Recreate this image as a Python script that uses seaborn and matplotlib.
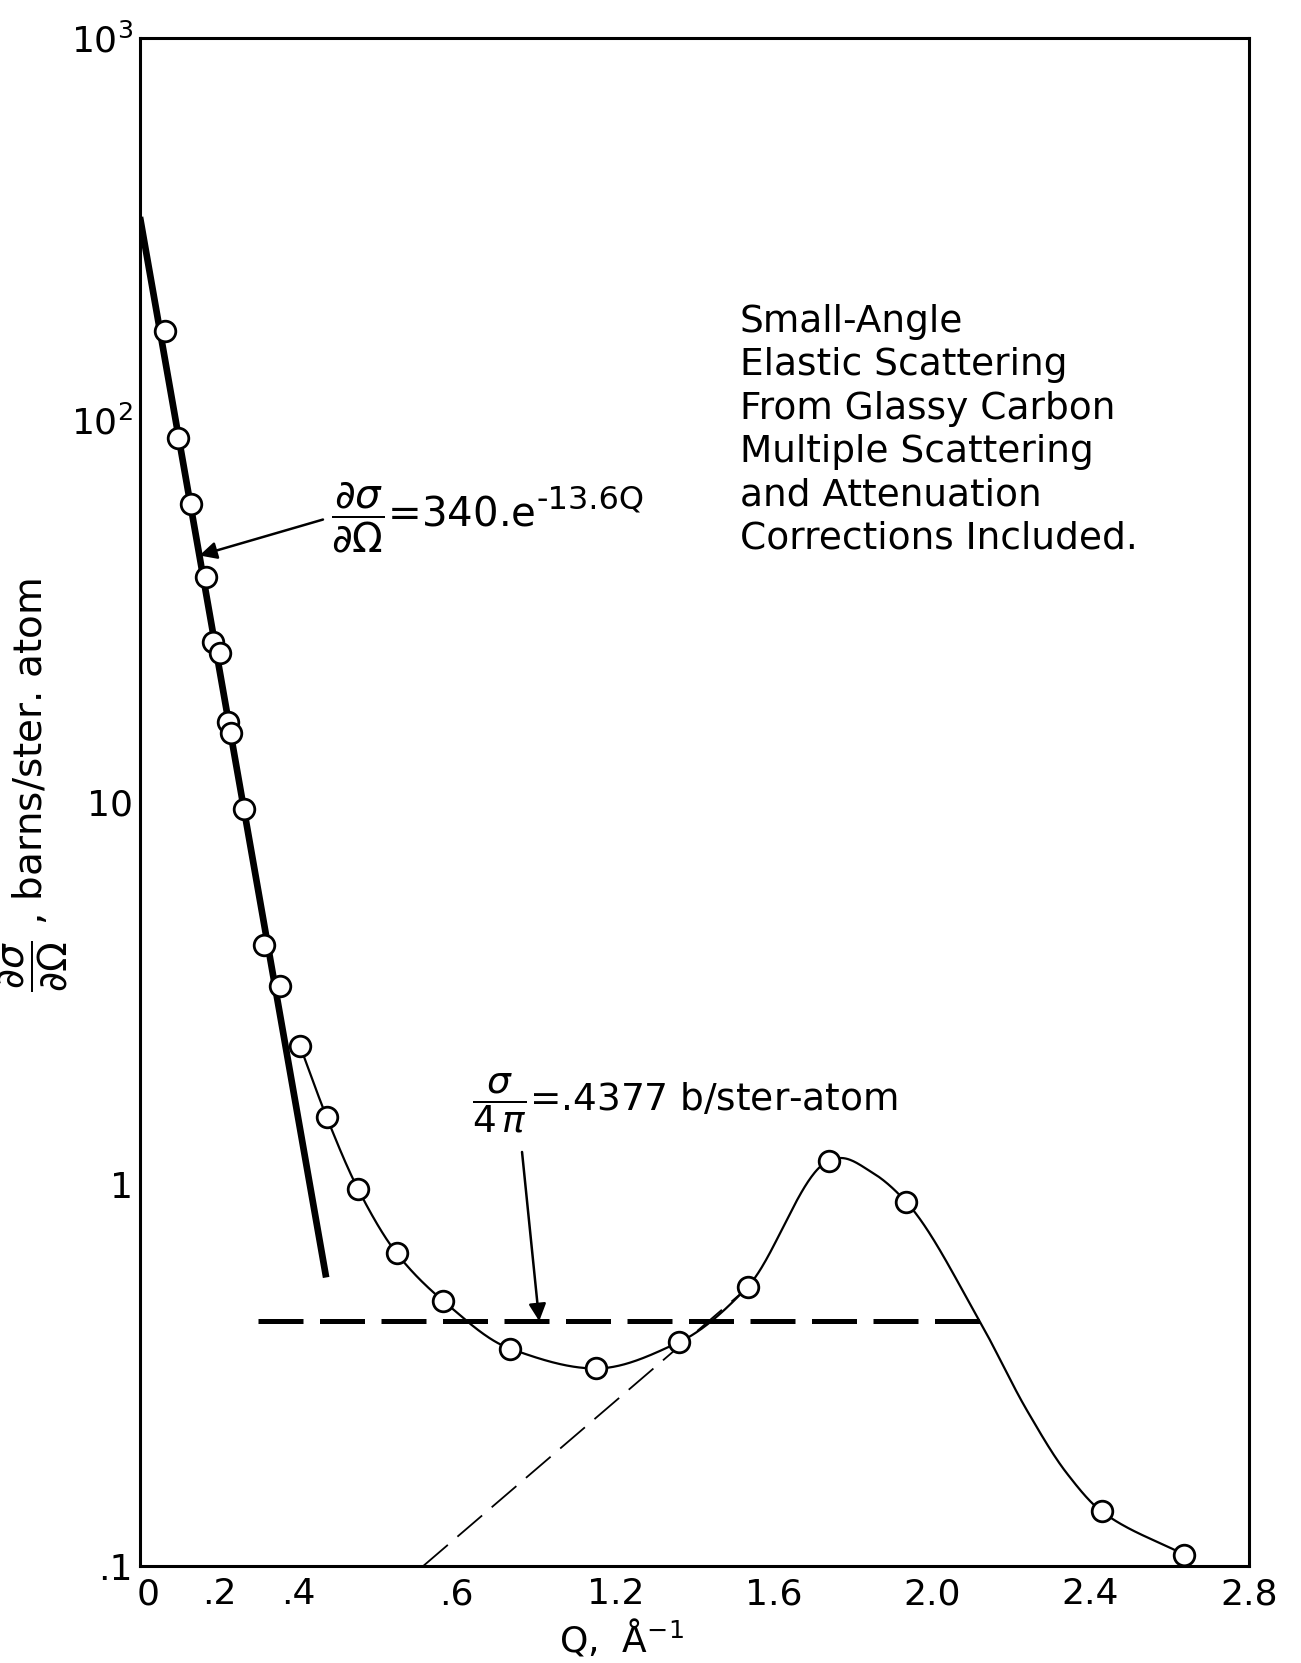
import numpy as np
import pandas as pd
import matplotlib
matplotlib.use("Agg")
import matplotlib.pyplot as plt
import matplotlib.transforms as mtransforms
import seaborn as sns

# ---------------- data ----------------
q_points = [0.062, 0.096, 0.128, 0.166, 0.185, 0.201, 0.222, 0.230, 0.262,
            0.313, 0.353, 0.404, 0.471, 0.551, 0.648, 0.766, 0.934, 1.151,
            1.362, 1.534, 1.740, 1.935, 2.428, 2.637]
ds_points = [171, 89.7, 60.3, 38.8, 26.3, 24.6, 16.2, 15.2, 9.57,
             4.22, 3.29, 2.30, 1.50, 0.968, 0.659, 0.494, 0.371, 0.329,
             0.386, 0.538, 1.15, 0.897, 0.139, 0.107]

# smooth hand-drawn curve: starts at the 12th point; extra points
curve_start_index = 11
curve_guide_q = [1.770, 1.850, 2.120, 2.240, 2.340]
curve_guide_y = [1.17, 1.07, 0.4377, 0.255, 0.175]

# exponential fit shown on chart
fit_amp = 340.0
fit_rate = 13.6
fit_q_range = [0.0, 0.47]
arrow_head_q = 0.15

# sigma / 4 pi level
sigma_level = 0.4377
sigma_q_range = [0.297, 2.12]
sigma_arrow_q = 1.008

thin_dash_q = [0.715, 1.52]
thin_dash_y = [0.1, 0.52]

x_ticks = [0, 0.2, 0.4, 0.8, 1.2, 1.6, 2.0, 2.4, 2.8]
x_tick_labels = ["0", ".2", ".4", ".6", "1.2", "1.6", "2.0", "2.4", "2.8"]
y_ticks = [0.1, 1, 10, 100, 1000]
y_tick_labels = [".1", "1", "10", r"$10^2$", r"$10^3$"]

block_text = ("Small-Angle\nElastic Scattering\nFrom Glassy Carbon\n"
              "Multiple Scattering\nand Attenuation\nCorrections Included.")


# ---------------- helpers ----------------
def pchip(x, y, xn):
    x = np.asarray(x, float); y = np.asarray(y, float)
    h = np.diff(x); delta = np.diff(y) / h
    n = len(x); d = np.zeros(n)
    for k in range(1, n - 1):
        if delta[k - 1] * delta[k] <= 0:
            d[k] = 0.0
        else:
            w1 = 2 * h[k] + h[k - 1]; w2 = h[k] + 2 * h[k - 1]
            d[k] = (w1 + w2) / (w1 / delta[k - 1] + w2 / delta[k])
    d[0] = delta[0]; d[-1] = delta[-1]
    idx = np.clip(np.searchsorted(x, xn) - 1, 0, n - 2)
    t = (xn - x[idx]) / h[idx]
    h00 = 2 * t**3 - 3 * t**2 + 1; h10 = t**3 - 2 * t**2 + t
    h01 = -2 * t**3 + 3 * t**2; h11 = t**3 - t**2
    return h00 * y[idx] + h10 * h[idx] * d[idx] + h01 * y[idx + 1] + h11 * h[idx] * d[idx + 1]


# ---------------- style ----------------
sns.set_theme(style="white")
plt.rcParams["font.family"] = ["DejaVu Sans"]
plt.rcParams["mathtext.fontset"] = "dejavusans"
plt.rcParams["xtick.direction"] = "in"
plt.rcParams["ytick.direction"] = "in"

fig = plt.figure(figsize=(13.01, 16.63), dpi=100)
ax = fig.add_axes([0.1076, 0.0583, 0.8524, 0.9188])
ax.set_facecolor("white")
for s in ax.spines.values():
    s.set_color("black")
    s.set_linewidth(2.2)

ax.set_yscale("log")
ax.set_xlim(0, 2.8)
ax.set_ylim(0.1, 1000)

# fit line
fq = np.linspace(fit_q_range[0], fit_q_range[1], 100)
fit_df = pd.DataFrame({"Q": fq, "y": fit_amp * np.exp(-fit_rate * fq)})
sns.lineplot(data=fit_df, x="Q", y="y", ax=ax, color="black", lw=4.8,
             sort=False, estimator=None, solid_capstyle="butt")

# smooth curve through the points
kq = list(q_points[curve_start_index:]) + curve_guide_q
ky = list(ds_points[curve_start_index:]) + curve_guide_y
order = np.argsort(kq)
kq = np.asarray(kq)[order]; ky = np.log10(np.asarray(ky)[order])
cq = np.linspace(kq[0], kq[-1], 800)
curve_df = pd.DataFrame({"Q": cq, "y": 10 ** pchip(kq, ky, cq)})
sns.lineplot(data=curve_df, x="Q", y="y", ax=ax, color="black", lw=1.6,
             sort=False, estimator=None)

# thick dashed sigma/4pi line
sig_df = pd.DataFrame({"Q": sigma_q_range, "y": [sigma_level] * 2})
sns.lineplot(data=sig_df, x="Q", y="y", ax=ax, color="black", lw=3.6,
             sort=False, estimator=None)
ax.lines[-1].set_dashes([9.0, 3.3])

# thin dashed line
td_df = pd.DataFrame({"Q": thin_dash_q, "y": thin_dash_y})
sns.lineplot(data=td_df, x="Q", y="y", ax=ax, color="black", lw=1.3,
             sort=False, estimator=None)
ax.lines[-1].set_dashes([18, 7])

# data points
pts_df = pd.DataFrame({"Q": q_points, "y": ds_points})
sns.scatterplot(data=pts_df, x="Q", y="y", ax=ax, marker="o", s=220,
                facecolor="white", edgecolor="black", linewidth=2.0, zorder=5)

# ticks
ax.set_xticks(x_ticks)
ax.set_xticklabels(x_tick_labels)
ax.set_yticks(y_ticks)
ax.set_yticklabels(y_tick_labels)
ax.yaxis.set_minor_locator(matplotlib.ticker.NullLocator())
ax.tick_params(axis="both", which="major", length=19, width=2.0, color="black",
               labelsize=26, labelcolor="black")
ax.tick_params(axis="x", pad=8)
ax.tick_params(axis="y", pad=5)
zero_lab = ax.get_xticklabels()[0]
zero_lab.set_transform(zero_lab.get_transform() +
                       mtransforms.ScaledTranslation(0.08, 0, fig.dpi_scale_trans))

ax.set_xlabel("")
ax.set_ylabel("")
fig.text(0.478, 0.007, r"Q,  Å$^{-1}$", fontsize=26, color="black",
         ha="center", va="baseline")
fig.text(0.026, 0.528, r"$\dfrac{\partial\sigma}{\partial\Omega}$ , barns/ster. atom",
         fontsize=28, color="black", ha="center", va="center", rotation=90)

# annotations
eq1 = ax.text(0.172, 0.6865, r"$\dfrac{\partial\sigma}{\partial\Omega}$=340.e",
              transform=ax.transAxes, fontsize=29, color="black",
              ha="left", va="center")
ax.annotate("-13.6Q", xy=(1.0, 0.5), xycoords=eq1, xytext=(1, 1),
            textcoords="offset points", fontsize=23, color="black",
            ha="left", va="bottom")
ax.annotate("", xy=(arrow_head_q, fit_amp * np.exp(-fit_rate * arrow_head_q)),
            xycoords="data", xytext=(0.165, 0.6849), textcoords="axes fraction",
            arrowprops=dict(arrowstyle="-|>", color="black", lw=1.8,
                            mutation_scale=26, shrinkA=0, shrinkB=0))

ax.text(0.299, 0.303, r"$\dfrac{\sigma}{4\,\pi}$=.4377 b/ster-atom",
        transform=ax.transAxes, fontsize=27, color="black", ha="left", va="center")
ax.annotate("", xy=(sigma_arrow_q, sigma_level), xycoords="data",
            xytext=(0.3445, 0.271), textcoords="axes fraction",
            arrowprops=dict(arrowstyle="-|>", color="black", lw=1.8,
                            mutation_scale=26, shrinkA=0, shrinkB=0))

ax.text(0.541, 0.826, block_text, transform=ax.transAxes, fontsize=27,
        color="black", ha="left", va="top", linespacing=1.26)

fig.savefig("out.png", dpi=100, facecolor="white")
